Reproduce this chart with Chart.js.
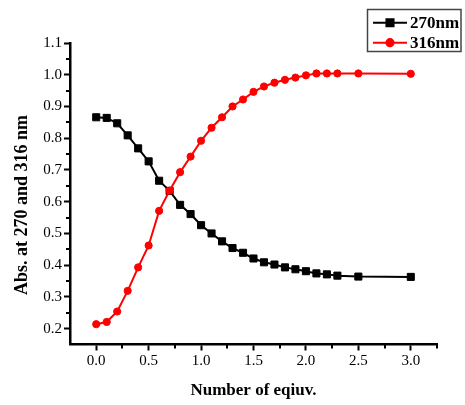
<!DOCTYPE html>
<html>
<head>
<meta charset="utf-8">
<script src="https://cdn.jsdelivr.net/npm/chart.js@4/dist/chart.umd.min.js"></script>
<style>
  html, body { margin: 0; padding: 0; background: #fff; }
  #wrap { width: 465px; height: 405px; position: relative; }
</style>
</head>
<body>
<div id="wrap"><canvas id="absChart"></canvas></div>
<script>
// equivalents added
const equiv = [0, 0.1, 0.2, 0.3, 0.4, 0.5, 0.6, 0.7, 0.8, 0.9, 1.0, 1.1, 1.2, 1.3,
    1.4, 1.5, 1.6, 1.7, 1.8, 1.9, 2.0, 2.1, 2.2, 2.3, 2.5, 3.0];

const abs270 = [0.866, 0.864, 0.847, 0.809, 0.768, 0.727, 0.666, 0.634, 0.590, 0.561,
    0.526, 0.500, 0.475, 0.454, 0.439, 0.421, 0.409, 0.402, 0.393, 0.387,
    0.381, 0.374, 0.371, 0.367, 0.364, 0.363];

const abs316 = [0.214, 0.221, 0.254, 0.319, 0.393, 0.462, 0.571, 0.635, 0.693, 0.742,
    0.792, 0.833, 0.866, 0.900, 0.922, 0.946, 0.963, 0.975, 0.984, 0.991,
    0.998, 1.004, 1.004, 1.004, 1.004, 1.003];

const seriesNames = ['270nm', '316nm'];

const xTicks = [0, 0.5, 1.0, 1.5, 2.0, 2.5, 3.0];
const xMinorTicks = [0.25, 0.75, 1.25, 1.75, 2.25, 2.75, 3.25];
const yTicks = [0.2, 0.3, 0.4, 0.5, 0.6, 0.7, 0.8, 0.9, 1.0, 1.1];
const yMinorTicks = [0.25, 0.35, 0.45, 0.55, 0.65, 0.75, 0.85, 0.95, 1.05];

const xTitle = 'Number of eqiuv.';
const yTitle = 'Abs. at 270 and 316 nm';

const SERIF = '"Liberation Serif", "DejaVu Serif", serif';

const toPoints = (ys) => ys.map((y, i) => ({ x: equiv[i], y: y }));

// short minor ticks, the library only draws the major ones
const minorTicks = {
    id: 'minorTicks',
    afterDraw(chart) {
        const ctx = chart.ctx;
        const { x, y } = chart.scales;
        const area = chart.chartArea;
        ctx.save();
        ctx.strokeStyle = '#000';
        ctx.lineWidth = 2;
        ctx.beginPath();
        xMinorTicks.forEach(v => {
            const px = Math.round(x.getPixelForValue(v));
            ctx.moveTo(px, area.bottom);
            ctx.lineTo(px, area.bottom + 4);
        });
        yMinorTicks.forEach(v => {
            const py = Math.round(y.getPixelForValue(v));
            ctx.moveTo(area.left, py);
            ctx.lineTo(area.left - 4, py);
        });
        ctx.stroke();
        ctx.restore();
    }
};

// y title sits a bit below the axis centre in the original
const yAxisTitle = {
    id: 'yAxisTitle',
    afterDraw(chart) {
        const ctx = chart.ctx;
        ctx.save();
        ctx.translate(22, 205);
        ctx.rotate(-Math.PI / 2);
        ctx.font = 'bold 18px ' + SERIF;
        ctx.fillStyle = '#000';
        ctx.textAlign = 'center';
        ctx.textBaseline = 'middle';
        ctx.fillText(yTitle, 0, 0);
        ctx.restore();
    }
};

// boxed legend in the top right corner
const boxLegend = {
    id: 'boxLegend',
    afterDraw(chart) {
        const ctx = chart.ctx;
        ctx.save();
        ctx.strokeStyle = '#444';
        ctx.lineWidth = 1.5;
        ctx.strokeRect(367.5, 9.5, 93.5, 42);

        const rows = [22.7, 42.7];
        chart.data.datasets.forEach((ds, i) => {
            const yy = rows[i];
            ctx.strokeStyle = ds.borderColor;
            ctx.lineWidth = ds.borderWidth;
            ctx.beginPath();
            ctx.moveTo(373, yy);
            ctx.lineTo(407, yy);
            ctx.stroke();

            ctx.fillStyle = ds.pointBackgroundColor;
            ctx.strokeStyle = ds.pointBorderColor;
            Chart.helpers.drawPoint(ctx, {
                pointStyle: ds.pointStyle,
                radius: ds.pointRadius,
                borderWidth: ds.pointBorderWidth,
                rotation: 0
            }, 390, yy);

            ctx.fillStyle = '#000';
            ctx.font = 'bold 17px ' + SERIF;
            ctx.textAlign = 'left';
            ctx.textBaseline = 'middle';
            ctx.fillText(ds.label, 410, yy + 1);
        });
        ctx.restore();
    }
};

const drawAbsChart = () => {
    const ctx = document.getElementById('absChart');

    new Chart(ctx, {
        type: 'scatter',
        data: {
            datasets: [{
                label: seriesNames[0],
                data: toPoints(abs270),
                showLine: true,
                borderColor: '#000',
                backgroundColor: '#000',
                borderWidth: 2,
                pointStyle: 'rect',
                pointRadius: 5,
                pointBorderWidth: 1,
                pointBackgroundColor: '#000',
                pointBorderColor: '#000',
                order: 1
            }, {
                label: seriesNames[1],
                data: toPoints(abs316),
                showLine: true,
                borderColor: '#ff0000',
                backgroundColor: '#ff0000',
                borderWidth: 2,
                pointStyle: 'circle',
                pointRadius: 3.6,
                pointBorderWidth: 1,
                pointBackgroundColor: '#ff0000',
                pointBorderColor: '#ff0000',
                order: 0
            }]
        },
        options: {
            responsive: false,
            animation: false,
            devicePixelRatio: 1,
            layout: {
                padding: { top: 43, right: 28, left: 0, bottom: 0 }
            },
            plugins: {
                legend: { display: false },
                tooltip: { enabled: false }
            },
            scales: {
                x: {
                    type: 'linear',
                    min: -0.25,
                    max: 3.25,
                    afterBuildTicks: s => { s.ticks = xTicks.map(v => ({ value: v })); },
                    afterFit: s => { s.height = 60.5; },
                    ticks: {
                        color: '#000',
                        padding: 2,
                        maxRotation: 0,
                        font: { family: SERIF, size: 15 },
                        callback: v => v.toFixed(1)
                    },
                    grid: {
                        drawOnChartArea: false,
                        drawTicks: true,
                        tickLength: 6,
                        tickWidth: 2,
                        tickColor: '#000'
                    },
                    border: { display: true, color: '#000', width: 2.5 },
                    title: {
                        display: true,
                        text: xTitle,
                        color: '#000',
                        font: { family: SERIF, size: 17, weight: 'bold' },
                        padding: { top: 0, bottom: 4 }
                    }
                },
                y: {
                    type: 'linear',
                    min: 0.15,
                    max: 1.1,
                    afterBuildTicks: s => { s.ticks = yTicks.map(v => ({ value: v })); },
                    afterFit: s => { s.width = 70; },
                    ticks: {
                        color: '#000',
                        padding: 2,
                        font: { family: SERIF, size: 15 },
                        callback: v => v.toFixed(1)
                    },
                    grid: {
                        drawOnChartArea: false,
                        drawTicks: true,
                        tickLength: 6,
                        tickWidth: 2,
                        tickColor: '#000'
                    },
                    border: { display: true, color: '#000', width: 2.5 }
                }
            }
        },
        plugins: [minorTicks, yAxisTitle, boxLegend]
    });
};

document.getElementById('absChart').width = 465;
document.getElementById('absChart').height = 405;
drawAbsChart();
</script>
</body>
</html>
